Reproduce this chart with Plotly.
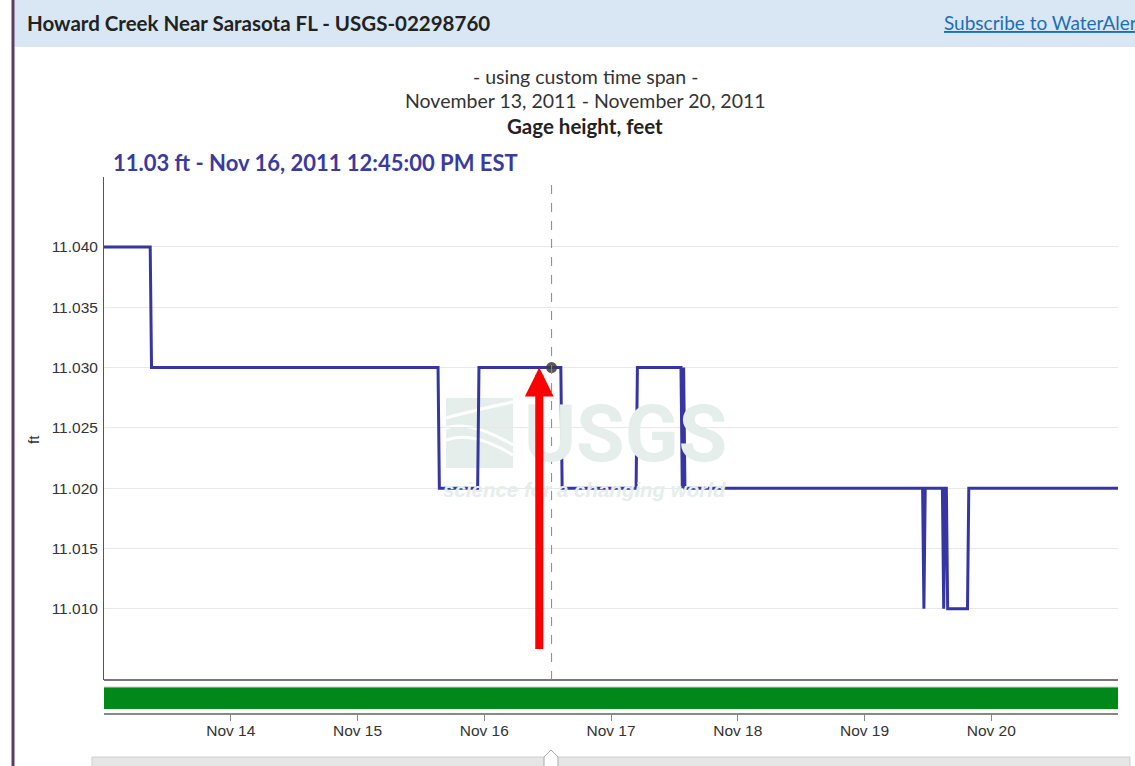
import plotly.graph_objects as go

# ---------------- data ----------------
times = [
    "2011-11-13 00:00", "2011-11-13 08:45", "2011-11-13 09:00",
    "2011-11-15 15:15", "2011-11-15 15:30", "2011-11-15 22:45", "2011-11-15 23:00",
    "2011-11-16 14:30", "2011-11-16 14:45", "2011-11-17 04:45", "2011-11-17 05:00",
    "2011-11-17 13:15", "2011-11-17 13:30", "2011-11-17 13:45", "2011-11-17 14:00",
    "2011-11-19 11:00", "2011-11-19 11:15", "2011-11-19 11:30",
    "2011-11-19 14:45", "2011-11-19 15:00", "2011-11-19 15:15", "2011-11-19 15:30",
    "2011-11-19 15:45", "2011-11-19 19:30", "2011-11-19 19:45", "2011-11-21 00:00",
]
gage_ft = [
    11.04, 11.04, 11.03,
    11.03, 11.02, 11.02, 11.03,
    11.03, 11.02, 11.02, 11.03,
    11.03, 11.02, 11.03, 11.02,
    11.02, 11.01, 11.02,
    11.02, 11.01, 11.02, 11.02,
    11.01, 11.01, 11.02, 11.02,
]
hover_time = "2011-11-16 12:45"
hover_value = 11.03
arrow_time = "2011-11-16 10:25"

x_range = ["2011-11-13 00:00", "2011-11-21 00:00"]
y_range = [11.0041, 11.0458]
x_tickvals = ["2011-11-14", "2011-11-15", "2011-11-16", "2011-11-17",
              "2011-11-18", "2011-11-19", "2011-11-20"]
x_ticktext = ["Nov 14", "Nov 15", "Nov 16", "Nov 17", "Nov 18", "Nov 19", "Nov 20"]
y_tickvals = [11.010, 11.015, 11.020, 11.025, 11.030, 11.035, 11.040]

approval_x = ["2011-11-13 00:00", "2011-11-21 00:00"]
approval_y = [1, 1]

# ---------------- layout helpers ----------------
W, H = 1135, 766
ML, MR, MT, MB = 104, 17, 177, 52
PW, PH = W - ML - MR, H - MT - MB


def px(x):
    return (x - ML) / PW


def py(y):
    return (H - MB - y) / PH


def ppath(cmds):
    out = []
    for c in cmds:
        if isinstance(c, str):
            out.append(c)
        else:
            out.append(f"{px(c[0]):.5f},{py(c[1]):.5f}")
    return " ".join(out)


LINE = "#3636a3"
FONT_UI = "Lato, 'Open Sans', sans-serif"
FONT_AX = "'Liberation Sans', Arial, sans-serif"
WM = "#e5eeeb"

fig = go.Figure()

fig.add_trace(go.Scatter(
    x=approval_x, y=approval_y, yaxis="y2", mode="lines",
    line=dict(color="#00881a", width=0), fill="tozeroy",
    fillcolor="#00881a", hoverinfo="skip", showlegend=False,
))

fig.add_trace(go.Scatter(
    x=times, y=gage_ft, mode="lines",
    line=dict(color=LINE, width=3), showlegend=False,
))

fig.add_trace(go.Scatter(
    x=[hover_time], y=[hover_value], mode="markers",
    marker=dict(size=11, color="rgba(60,60,60,0.85)"), showlegend=False,
))

shapes = [
    # header band
    dict(type="rect", xref="paper", yref="paper", x0=px(14), x1=px(1140),
         y0=py(47), y1=py(-5), fillcolor="#d9e7f5", line=dict(width=0), layer="below"),
    # left purple border
    dict(type="rect", xref="paper", yref="paper", x0=px(11.5), x1=px(14.5),
         y0=py(770), y1=py(-5), fillcolor="#5c3d66", line=dict(width=0)),
    # watermark logo block
    dict(type="rect", xref="paper", yref="paper", x0=px(446), x1=px(513),
         y0=py(468), y1=py(398), fillcolor=WM, line=dict(width=0), layer="below"),
    dict(type="path", xref="paper", yref="paper", layer="below",
         path=ppath(["M", (446, 428), "Q", (470, 420), (513, 445)]),
         line=dict(color="white", width=3)),
    dict(type="path", xref="paper", yref="paper", layer="below",
         path=ppath(["M", (446, 440), "Q", (472, 430), (513, 455)]),
         line=dict(color="white", width=3)),
    dict(type="path", xref="paper", yref="paper", layer="below",
         path=ppath(["M", (446, 418), "Q", (475, 410), (513, 402)]),
         line=dict(color="white", width=3)),
    # bottom border of main plot
    dict(type="line", xref="x domain", yref="y domain", x0=0, x1=1, y0=0, y1=0,
         line=dict(color="#777", width=2)),
    # top line of approval bar
    dict(type="line", xref="x domain", yref="y2 domain", x0=0, x1=1, y0=1, y1=1,
         line=dict(color="#d0d0d0", width=1)),
    # hover dashed line
    dict(type="line", xref="x", yref="y domain", x0=hover_time, x1=hover_time,
         y0=0, y1=0.995, line=dict(color="#888", width=1, dash="dash")),
    # slider track
    dict(type="rect", xref="paper", yref="paper", x0=px(92), x1=px(1130),
         y0=py(772), y1=py(757), fillcolor="#e6e6e6", line=dict(color="#cfcfcf", width=1)),
]
# slider handle
hx = [544, 544, 551, 558, 558]
hy = [770, 757, 750, 757, 770]
path = "M " + " L ".join(f"{px(a):.5f},{py(b):.5f}" for a, b in zip(hx, hy)) + " Z"
shapes.append(dict(type="path", xref="paper", yref="paper", path=path,
                   fillcolor="white", line=dict(color="#aaa", width=1)))

annotations = [
    dict(xref="paper", yref="paper", x=px(25), y=py(23), xanchor="left", yanchor="middle",
         text="<b>Howard Creek Near Sarasota FL - USGS-02298760</b>", showarrow=False,
         font=dict(family=FONT_UI, size=20.5, color="#222")),
    dict(xref="paper", yref="paper", x=px(942), y=py(23), xanchor="left", yanchor="middle",
         text="<u>Subscribe to WaterAlert</u>", showarrow=False,
         font=dict(family=FONT_UI, size=19, color="#1f6fb0")),
    dict(xref="paper", yref="paper", x=px(585), y=py(77), xanchor="center", yanchor="middle",
         text="- using custom time span -", showarrow=False,
         font=dict(family=FONT_UI, size=19.5, color="#333")),
    dict(xref="paper", yref="paper", x=px(585), y=py(101), xanchor="center", yanchor="middle",
         text="November 13, 2011 - November 20, 2011", showarrow=False,
         font=dict(family=FONT_UI, size=19.5, color="#333")),
    dict(xref="paper", yref="paper", x=px(585), y=py(126), xanchor="center", yanchor="middle",
         text="<b>Gage height, feet</b>", showarrow=False,
         font=dict(family=FONT_UI, size=20.5, color="#222")),
    dict(xref="paper", yref="paper", x=px(111), y=py(162), xanchor="left", yanchor="middle",
         text="<b>11.03 ft - Nov 16, 2011 12:45:00 PM EST</b>", showarrow=False,
         font=dict(family=FONT_UI, size=22, color="#3b3a9e")),
    dict(xref="paper", yref="paper", x=px(33), y=py(440), xanchor="center", yanchor="middle",
         text="ft", textangle=-90, showarrow=False,
         font=dict(family=FONT_AX, size=15, color="#333")),
    # watermark
    dict(xref="paper", yref="paper", x=px(625), y=py(434), xanchor="center", yanchor="middle",
         text="<b>USGS</b>", showarrow=False,
         font=dict(family="Roboto, 'Liberation Sans', sans-serif", size=79, color=WM)),
    dict(xref="paper", yref="paper", x=px(584), y=py(489), xanchor="center", yanchor="middle",
         text="<b><i>science for a changing world</i></b>", showarrow=False,
         font=dict(family=FONT_AX, size=20.5, color=WM)),
    # red arrow
    dict(x=arrow_time, y=hover_value, xref="x", yref="y", text="", showarrow=True,
         ax=0, ay=283, axref="pixel", ayref="pixel",
         arrowcolor="#ff0000", arrowwidth=8, arrowhead=2, arrowsize=0.72, standoff=0),
]

fig.update_layout(
    width=W, height=H,
    margin=dict(l=ML, r=MR, t=MT, b=MB, autoexpand=False),
    paper_bgcolor="white", plot_bgcolor="white",
    showlegend=False,
    hovermode=False,
    xaxis=dict(
        range=x_range, type="date", anchor="free", position=0,
        tickvals=x_tickvals, ticktext=x_ticktext,
        showgrid=False, zeroline=False,
        showline=True, linecolor="#888", linewidth=2,
        ticks="outside", ticklen=6, tickcolor="#888",
        ticklabelstandoff=-4,
        tickfont=dict(family=FONT_AX, size=15.5, color="#333"),
    ),
    yaxis=dict(
        domain=[py(680), 1], range=y_range,
        tickvals=y_tickvals, tickformat=".3f",
        showgrid=True, gridcolor="#e8e8e8", gridwidth=1, zeroline=False,
        showline=True, linecolor="#555", linewidth=1,
        ticks="", ticklen=0, ticklabelstandoff=2,
        tickfont=dict(family=FONT_AX, size=15.5, color="#333"),
    ),
    yaxis2=dict(
        domain=[py(709), py(687)], range=[0, 1],
        showgrid=False, zeroline=False, showticklabels=False, showline=False,
    ),
    shapes=shapes,
    annotations=annotations,
)

fig.write_html(
    "out.html",
    config={"displayModeBar": False},
    post_script="document.body.style.margin='0px';document.body.style.overflow='hidden';",
)
